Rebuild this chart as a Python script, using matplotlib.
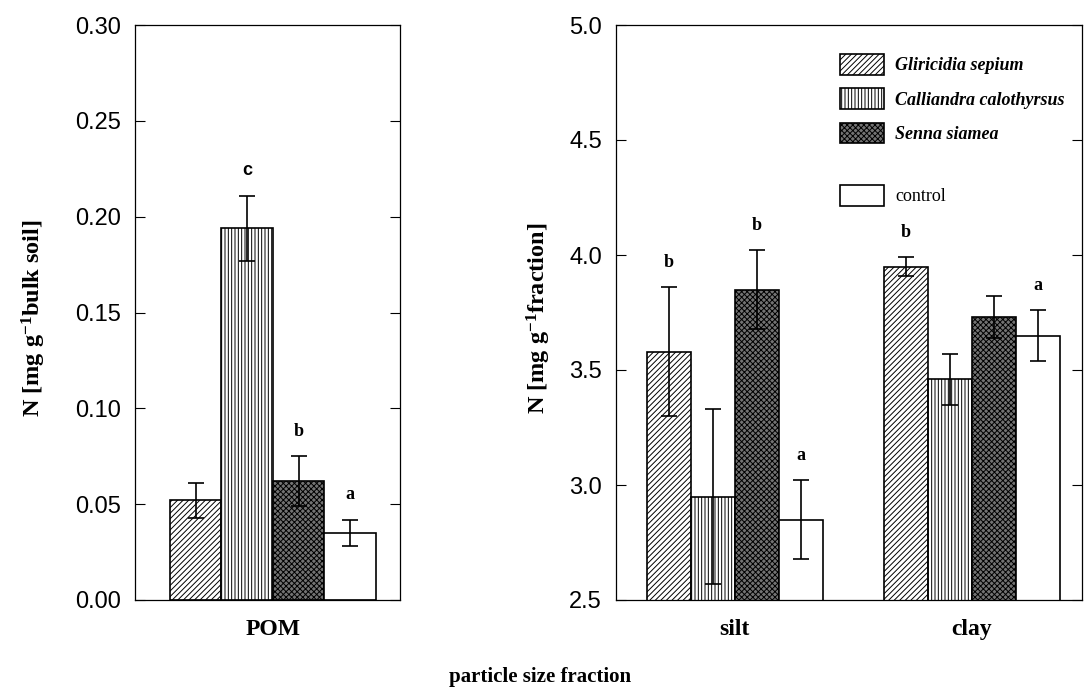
import matplotlib
matplotlib.use("Agg")
import matplotlib.pyplot as plt
import numpy as np

plt.rcParams["hatch.linewidth"] = 0.7
plt.rcParams["mathtext.fontset"] = "custom"
plt.rcParams["mathtext.rm"] = "Liberation Serif:bold"
plt.rcParams["mathtext.bf"] = "Liberation Serif:bold"
plt.rcParams["mathtext.it"] = "Liberation Serif:bold"

# data
treatments = ["Gliricidia sepium", "Calliandra calothyrsus", "Senna siamea", "control"]
pom_vals = [0.052, 0.194, 0.062, 0.035]
pom_err = [0.009, 0.017, 0.013, 0.007]
pom_letters = ["", "c", "b", "a"]

silt_vals = [3.58, 2.95, 3.85, 2.85]
silt_err = [0.28, 0.38, 0.17, 0.17]
silt_letters = ["b", "", "b", "a"]

clay_vals = [3.95, 3.46, 3.73, 3.65]
clay_err = [0.04, 0.11, 0.09, 0.11]
clay_letters = ["b", "", "", "a"]

left_ticks = [0.00, 0.05, 0.10, 0.15, 0.20, 0.25, 0.30]
right_ticks = [2.5, 3.0, 3.5, 4.0, 4.5, 5.0]

# styles
faces = ["white", "white", "0.45", "white"]
hatches = ["//////", "|||||", "xxxxxx", ""]

serif = "Liberation Serif"
sans = "Liberation Sans"

fig = plt.figure(figsize=(10.85, 6.91), dpi=100)
ax1 = fig.add_axes([135 / 1085, 1 - 600 / 691, 265 / 1085, 575 / 691])
ax2 = fig.add_axes([616 / 1085, 1 - 600 / 691, 466 / 1085, 575 / 691])


def draw_group(ax, x0, vals, errs, letters):
    for i in range(4):
        x = x0 + i
        ax.bar(x, vals[i], width=1.0, color=faces[i], edgecolor="black",
               hatch=hatches[i], linewidth=1.2, label=treatments[i] if x0 == 0 else None)
        ax.errorbar(x, vals[i], yerr=errs[i], color="black", capsize=6,
                    elinewidth=1.2, capthick=1.2)
        if letters[i]:
            # the "c" in the original is set in a sans face
            fam = sans if letters[i] == "c" else serif
            ax.annotate(letters[i], (x, vals[i] + errs[i]), xytext=(0, 18),
                        textcoords="offset points", ha="center", va="center",
                        fontsize=13, fontweight="bold", family=fam)


draw_group(ax1, 0, pom_vals, pom_err, pom_letters)
ax1.set_xlim(-1.18, 3.97)
ax1.set_ylim(0, 0.30)
ax1.set_yticks(left_ticks)
ax1.set_yticklabels([f"{t:.2f}" for t in left_ticks])
ax1.set_xticks([1.5])
ax1.set_xticklabels(["POM"])
ax1.set_ylabel("N [mg g$^{-1}$bulk soil]", family=serif, fontweight="bold", fontsize=17.5)
ax1.yaxis.set_label_coords(-0.33, 0.49)

draw_group(ax2, 0, silt_vals, silt_err, silt_letters)
draw_group(ax2, 5.39, clay_vals, clay_err, clay_letters)
ax2.set_xlim(-1.2, 9.39)
ax2.set_ylim(2.5, 5.0)
ax2.set_yticks(right_ticks)
ax2.set_yticklabels([f"{t:.1f}" for t in right_ticks])
ax2.set_xticks([1.5, 6.89])
ax2.set_xticklabels(["silt", "clay"])
ax2.set_ylabel("N [mg g$^{-1}$fraction]", family=serif, fontweight="bold", fontsize=17.5)
ax2.yaxis.set_label_coords(-0.135, 0.49)

for ax in (ax1, ax2):
    ax.tick_params(axis="y", direction="in", right=True, length=7, width=0.8,
                   labelsize=17, pad=10)
    ax.tick_params(axis="x", length=0, pad=14)
    for lab in ax.get_yticklabels():
        lab.set_family(sans)
    for lab in ax.get_xticklabels():
        lab.set_family(serif)
        lab.set_fontweight("bold")
        lab.set_fontsize(17)
    for sp in ax.spines.values():
        sp.set_linewidth(0.9)

# legend: three species then control set apart
handles, labels = ax2.get_legend_handles_labels()
leg_kw = dict(loc="upper left", borderaxespad=0, borderpad=0, frameon=False,
              handlelength=2.45, handleheight=1.4, handletextpad=0.6)
leg1 = ax2.legend(handles[:3], labels[:3], bbox_to_anchor=(0.481, 0.95),
                  labelspacing=0.75,
                  prop={"family": serif, "style": "italic", "weight": "bold", "size": 13},
                  **leg_kw)
ax2.add_artist(leg1)
ax2.legend(handles[3:], labels[3:], bbox_to_anchor=(0.481, 0.722),
           prop={"family": serif, "size": 13}, **leg_kw)

fig.text(540 / 1085, 1 - 677 / 691, "particle size fraction", ha="center", va="center",
         family=serif, fontweight="bold", fontsize=15)

fig.savefig("out.png", dpi=100)
